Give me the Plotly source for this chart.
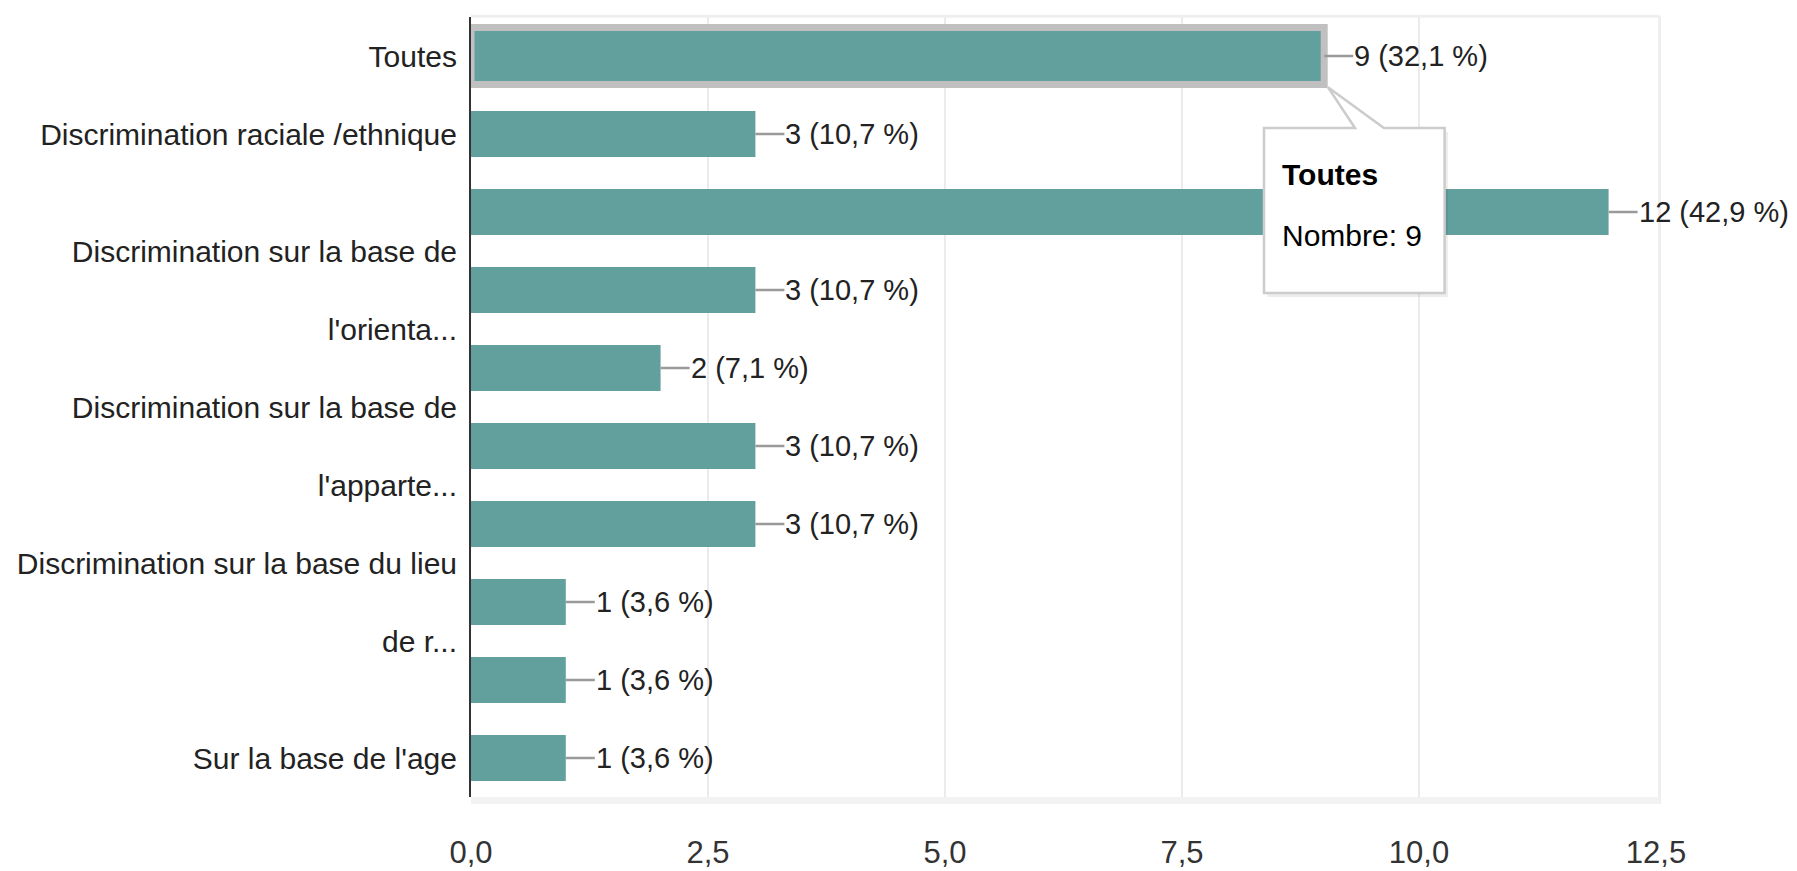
import plotly.graph_objects as go

# ---- data ----
categories = [
    "Toutes",
    "Discrimination raciale /ethnique",
    "",
    "Discrimination sur la base de<br><br>l'orienta...",
    "",
    "Discrimination sur la base de<br><br>l'apparte...",
    "",
    "Discrimination sur la base du lieu<br><br>de r...",
    "",
    "Sur la base de l'age",
]
counts = [9, 3, 12, 3, 2, 3, 3, 1, 1, 1]
percents = [32.1, 10.7, 42.9, 10.7, 7.1, 10.7, 10.7, 3.6, 3.6, 3.6]
x_ticks = [0, 2.5, 5, 7.5, 10, 12.5]
tooltip_title = "Toutes"
tooltip_label = "Nombre: 9"

FONT = "Liberation Sans, Arial, sans-serif"
FS = 30
BAR = "#62a09e"
TXT = "#222222"

pos = list(range(len(categories)))
n = len(counts)

fig = go.Figure()
fig.add_trace(go.Bar(
    x=counts, y=pos, orientation="h",
    marker=dict(color=BAR,
                line=dict(color=["#c0c0c0"] + ["rgba(0,0,0,0)"] * (n - 1),
                          width=[7] + [0] * (n - 1))),
    width=[0.73] + [0.59] * (n - 1), hoverinfo="skip", showlegend=False,
))

# value labels with leader lines
for i, (c, p) in enumerate(zip(counts, percents)):
    label = f"{c} ({p:.1f} %)".replace(".", ",")
    fig.add_annotation(x=c, y=i, xref="x", yref="y", text=label,
                       showarrow=True, ax=29, ay=0, axref="pixel", ayref="pixel",
                       arrowhead=0, arrowwidth=2.5, arrowcolor="#9a9a9a",
                       standoff=0, startstandoff=0, xanchor="left", yanchor="middle",
                       font=dict(family=FONT, size=29, color=TXT), borderpad=0)

shapes = []
# plot frame decorations
shapes.append(dict(type="line", xref="paper", yref="paper", x0=0, x1=1.003, y0=1.001, y1=1.001,
                   line=dict(color="#efefef", width=3), layer="below"))
shapes.append(dict(type="line", xref="paper", yref="paper", x0=1.003, x1=1.003, y0=-0.009, y1=1.001,
                   line=dict(color="#efefef", width=3), layer="below"))
shapes.append(dict(type="rect", xref="paper", yref="paper", x0=0, x1=1.003, y0=-0.009, y1=0,
                   fillcolor="#f3f3f3", line=dict(width=0), layer="below"))

# tooltip (callout box) in data coordinates
bx0, bx1, by0, by1 = 8.365, 10.27, 0.923, 3.04
px0, px1, tipx, tipy = 9.325, 9.63, 9.04, 0.40
def box_path(dx=0.0, dy=0.0):
    pts = [(bx0, by0), (px0, by0), (tipx, tipy), (px1, by0), (bx1, by0), (bx1, by1), (bx0, by1)]
    return "M " + " L ".join(f"{x + dx},{y + dy}" for x, y in pts) + " Z"
shapes.append(dict(type="path", xref="x", yref="y", path=box_path(0.035, 0.05),
                   fillcolor="rgba(0,0,0,0.07)", line=dict(width=0), layer="above"))
shapes.append(dict(type="path", xref="x", yref="y", path=box_path(),
                   fillcolor="white", line=dict(color="#cccccc", width=2.5), layer="above"))
fig.add_annotation(x=8.53, y=1.513, xref="x", yref="y", text=f"<b>{tooltip_title}</b>",
                   showarrow=False, xanchor="left", yanchor="middle",
                   font=dict(family=FONT, size=FS, color="#000000"))
fig.add_annotation(x=8.53, y=2.295, xref="x", yref="y", text=tooltip_label,
                   showarrow=False, xanchor="left", yanchor="middle",
                   font=dict(family=FONT, size=FS, color="#000000"))

fig.update_layout(
    width=1797, height=871,
    margin=dict(l=471, r=141, t=17, b=74),
    plot_bgcolor="white", paper_bgcolor="white",
    separators=", ",
    shapes=shapes,
    font=dict(family=FONT, size=FS, color=TXT),
)
fig.update_xaxes(range=[0, 12.5], tickvals=x_ticks, tickformat=".1f",
                 showgrid=True, gridcolor="#ebebeb", gridwidth=2,
                 zeroline=False, showline=False, ticks="", automargin=False,
                 ticklabelstandoff=34,
                 tickfont=dict(family=FONT, size=31, color="#333333"))
fig.update_yaxes(range=[9.5, -0.5], tickvals=pos, ticktext=categories,
                 showgrid=False, zeroline=False, showline=True,
                 linecolor="#333333", linewidth=2, ticks="", automargin=False,
                 ticklabelstandoff=6,
                 tickfont=dict(family=FONT, size=FS, color=TXT))

fig.write_html("out.html", post_script="document.body.style.margin='0';",
               config={"displayModeBar": False})
